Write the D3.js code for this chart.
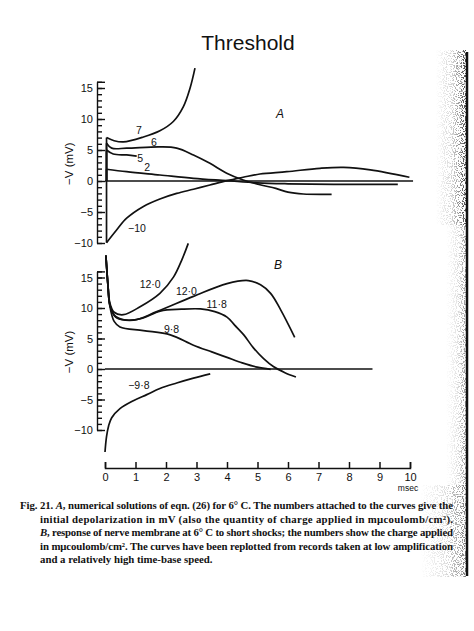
<!DOCTYPE html>
<html>
<head>
<meta charset="utf-8">
<script src="https://cdn.jsdelivr.net/npm/d3@7"></script>
<style>
  body { margin: 0; background: #fff; }
  svg { display: block; }
  text { font-family: "Liberation Sans", Arial, sans-serif; fill: #111; }
</style>
</head>
<body>
<svg id="chart"></svg>
<script>
// values: [time (msec), -V (mV)]
const curveA7 = [[0.05, 7.0], [0.3, 6.5], [0.6, 6.3], [1.26, 7.1], [1.8, 8.1], [2.24, 9.6], [2.57, 12.0], [2.79, 15.0], [2.95, 18.2]];
const curveA6 = [[0.05, 6.1], [0.22, 5.3], [0.71, 5.3], [1.8, 5.5], [2.35, 5.3], [2.9, 4.2], [3.44, 2.85], [3.99, 1.25], [4.53, 0.16], [5.08, -0.6], [5.6, -1.2], [6.0, -1.8], [6.5, -2.1], [7.43, -2.15]];
const curveA5 = [[0.05, 5.0], [0.27, 4.35], [0.71, 4.2], [1.04, 4.0]];
const curveA2 = [[0.05, 1.9], [0.71, 1.5], [1.8, 0.97], [2.9, 0.43], [4.0, 0.05], [5.0, -0.3], [6.0, -0.45], [7.5, -0.55], [9.6, -0.55]];
const curveAm10 = [[0.05, -9.95], [0.38, -7.9], [0.71, -6.0], [1.26, -4.1], [1.8, -2.9], [2.35, -2.0], [2.9, -1.33], [3.44, -0.65], [4.0, 0.05], [4.53, 0.6], [5.08, 1.13], [5.96, 1.5], [7.05, 2.05], [7.82, 2.2], [8.7, 1.8], [9.98, 0.6]];
const labelsA = ["7", "6", "5", "2", "\u221210"];

const curveB120fast = [[0.03, 18.6], [0.1, 13.5], [0.16, 10.8], [0.3, 9.3], [0.6, 8.9], [1.15, 10.2], [1.8, 12.4], [2.25, 15.1], [2.52, 17.9], [2.73, 20.6]];
const curveB120slow = [[0.03, 18.6], [0.1, 13.5], [0.16, 10.5], [0.35, 8.6], [0.93, 8.0], [1.7, 9.4], [2.9, 11.9], [4.0, 14.0], [4.7, 14.5], [5.1, 13.8], [5.43, 12.4], [5.76, 9.7], [6.22, 5.2]];
const curveB118 = [[0.03, 18.6], [0.1, 13.5], [0.16, 10.5], [0.35, 8.5], [0.71, 8.0], [1.2, 8.3], [1.81, 9.5], [2.5, 9.8], [3.13, 9.85], [3.6, 9.4], [4.0, 8.5], [4.25, 7.2], [4.55, 5.6], [4.86, 3.5], [5.2, 1.7], [5.52, 0.4], [5.9, -0.6], [6.26, -1.3]];
const curveB98 = [[0.03, 18.6], [0.1, 13.5], [0.16, 10.3], [0.3, 7.8], [0.49, 6.9], [1.26, 6.3], [2.14, 5.6], [2.9, 3.9], [3.5, 2.8], [4.0, 1.9], [4.5, 1.0], [4.99, 0.3], [5.43, -0.05]];
const curveBm98 = [[0.0, -13.6], [0.05, -11.1], [0.12, -9.3], [0.22, -8.0], [0.49, -6.5], [0.93, -5.2], [1.37, -4.2], [1.8, -3.2], [2.35, -2.3], [2.9, -1.5], [3.45, -0.8]];
const labelsB = ["12\u00b70", "12\u00b70", "11\u00b78", "9\u00b78", "\u22129\u00b78"];

const baselineEndA = 10.1;
const baselineEndB = 8.77;
const timeTicks = d3.range(0, 11);
const yTickRange = d3.range(-10, 17);
const yMajorTicks = [-10, -5, 0, 5, 10, 15];

const titleText = "Threshold";
const captionLines = [
    "Fig. 21.  |A|, numerical solutions of eqn. (26) for 6\u00b0 C. The numbers attached to the curves give the",
    "initial depolarization in mV (also the quantity of charge applied in m\u03bccoulomb/cm\u00b2).",
    "|B|, response of nerve membrane at 6\u00b0 C to short shocks; the numbers show the charge applied",
    "in m\u03bccoulomb/cm\u00b2. The curves have been replotted from records taken at low amplification",
    "and a relatively high time-base speed."
];

const W = 474, H = 631;
const svg = d3.select("#chart").attr("width", W).attr("height", H);
svg.append("rect").attr("width", W).attr("height", H).attr("fill", "#fff");

svg.append("text")
    .attr("x", 248).attr("y", 50)
    .attr("text-anchor", "middle")
    .style("font-size", "21px")
    .text(titleText);

const x = d3.scaleLinear().domain([0, 10]).range([105, 410]);
const yA = d3.scaleLinear().domain([-10, 16]).range([243, 243 - 26 * 6.2]);
const yB = d3.scaleLinear().domain([-10, 16]).range([430, 430 - 26 * 6.1]);

function drawPanel(y, curves, labels, labelAt, letter, letterAt, baseEnd, stems) {
    const g = svg.append("g");

    // minor ticks every mV, longer ticks every 5
    g.append("g")
        .attr("transform", "translate(97,0)")
        .call(d3.axisRight(y).tickValues(yTickRange).tickSize(5).tickSizeOuter(0).tickFormat(""))
        .call(a => a.selectAll("line,path").attr("stroke", "#111").attr("stroke-width", 1.4));
    g.append("g")
        .attr("transform", "translate(97,0)")
        .call(d3.axisRight(y).tickValues(yMajorTicks.concat([16])).tickSize(8).tickFormat(""))
        .call(a => a.select(".domain").remove())
        .call(a => a.selectAll("line").attr("stroke", "#111").attr("stroke-width", 1.4));
    g.append("g")
        .attr("transform", "translate(97,0)")
        .call(d3.axisLeft(y).tickValues(yMajorTicks).tickSize(0).tickPadding(4))
        .call(a => a.select(".domain").remove())
        .call(a => a.selectAll("text").style("font-size", "11px").style("font-family", "'Liberation Sans', Arial, sans-serif").attr("fill", "#111"));

    g.append("text")
        .attr("transform", `translate(73,${y(2.8)}) rotate(-90)`)
        .attr("text-anchor", "middle")
        .style("font-size", "11.5px")
        .text("\u2212V (mV)");

    // zero line
    g.append("line")
        .attr("x1", x(0)).attr("x2", x(baseEnd))
        .attr("y1", y(0)).attr("y2", y(0))
        .attr("stroke", "#111").attr("stroke-width", 1.5);

    const line = d3.line()
        .x(d => x(d[0]))
        .y(d => y(d[1]))
        .curve(d3.curveCatmullRom.alpha(0.5));

    if (stems) {
        curves.forEach(c => {
            g.append("path")
                .attr("d", d3.line().x(d => x(d[0])).y(d => y(d[1]))([[c[0][0], 0], c[0]]))
                .attr("fill", "none").attr("stroke", "#111").attr("stroke-width", 1.7);
        });
    }

    curves.forEach(c => {
        g.append("path")
            .datum(c)
            .attr("fill", "none")
            .attr("stroke", "#111")
            .attr("stroke-width", 1.7)
            .attr("stroke-linejoin", "round")
            .attr("d", line);
    });

    labels.forEach((t, i) => {
        g.append("text")
            .attr("x", x(labelAt[i][0]))
            .attr("y", y(labelAt[i][1]))
            .attr("text-anchor", "middle")
            .attr("dominant-baseline", "central")
            .style("font-size", "10.5px")
            .text(t);
    });

    g.append("text")
        .attr("x", x(letterAt[0]))
        .attr("y", y(letterAt[1]))
        .attr("text-anchor", "middle")
        .attr("dominant-baseline", "central")
        .style("font-size", "12px")
        .style("font-style", "italic")
        .text(letter);
}

drawPanel(yA, [curveA7, curveA6, curveA5, curveA2, curveAm10], labelsA,
    [[1.11, 8.2], [1.6, 6.3], [1.15, 3.7], [1.38, 2.3], [1.05, -7.6]],
    "A", [5.74, 10.8], baselineEndA, true);

drawPanel(yB, [curveB120fast, curveB120slow, curveB118, curveB98, curveBm98], labelsB,
    [[1.48, 13.9], [2.67, 12.8], [3.66, 10.7], [2.18, 6.6], [1.11, -2.7]],
    "B", [5.67, 17.0], baselineEndB, false);

// time axis
const xAxis = svg.append("g")
    .attr("transform", "translate(0,468)")
    .call(d3.axisBottom(x).tickValues(timeTicks).tickSize(-6).tickSizeOuter(-6).tickPadding(5));
xAxis.selectAll("line,path").attr("stroke", "#111").attr("stroke-width", 1.5);
xAxis.selectAll("text").style("font-size", "11px").style("font-family", "'Liberation Sans', Arial, sans-serif").attr("fill", "#111");
svg.append("text")
    .attr("x", x(10) - 2).attr("y", 491)
    .attr("text-anchor", "middle")
    .style("font-size", "8.5px")
    .text("msec");

// caption
const cap = svg.append("g");
captionLines.forEach((ln, i) => {
    const left = i === 0 ? 20 : 40;
    const t = cap.append("text")
        .attr("x", left)
        .attr("y", 509 + i * 13.6)
        .style("font-family", "'Liberation Serif', 'Times New Roman', serif")
        .style("font-size", "10.8px")
        .style("font-weight", "bold");
    if (i < captionLines.length - 1) {
        t.attr("textLength", 453 - left).attr("lengthAdjust", "spacing");
    }
    ln.split("|").forEach((part, k) => {
        t.append("tspan").style("font-style", k % 2 ? "italic" : "normal").text(part);
    });
});

// scan edge: dark border and grey speckle
const defs = svg.append("defs");
const grad = defs.append("linearGradient").attr("id", "edge").attr("x1", 0).attr("x2", 1);
grad.append("stop").attr("offset", 0).attr("stop-color", "#444").attr("stop-opacity", 0);
grad.append("stop").attr("offset", 0.55).attr("stop-color", "#444").attr("stop-opacity", 0.25);
grad.append("stop").attr("offset", 1).attr("stop-color", "#333").attr("stop-opacity", 0.9);
const speck = defs.append("filter").attr("id", "speck")
    .attr("x", 0).attr("y", 0).attr("width", 1).attr("height", 1);
speck.append("feTurbulence").attr("type", "fractalNoise").attr("baseFrequency", 0.9)
    .attr("numOctaves", 1).attr("seed", 3).attr("result", "noise");
speck.append("feColorMatrix").attr("in", "noise").attr("type", "matrix")
    .attr("values", "0 0 0 0 0  0 0 0 0 0  0 0 0 0 0  20 0 0 0 -10.5").attr("result", "dots");
speck.append("feComposite").attr("in", "SourceGraphic").attr("in2", "dots").attr("operator", "in");

svg.append("rect").attr("x", 436).attr("y", 50).attr("width", 30).attr("height", 175)
    .attr("fill", "url(#edge)").attr("filter", "url(#speck)");
svg.append("rect").attr("x", 446).attr("y", 225).attr("width", 20).attr("height", 260)
    .attr("fill", "url(#edge)").attr("opacity", 0.6).attr("filter", "url(#speck)");
svg.append("rect").attr("x", 420).attr("y", 485).attr("width", 46).attr("height", 92)
    .attr("fill", "url(#edge)").attr("opacity", 0.7).attr("filter", "url(#speck)");
svg.append("line")
    .attr("x1", 467).attr("x2", 467).attr("y1", 52).attr("y2", 576)
    .attr("stroke", "#111").attr("stroke-width", 2.5);
</script>
</body>
</html>
